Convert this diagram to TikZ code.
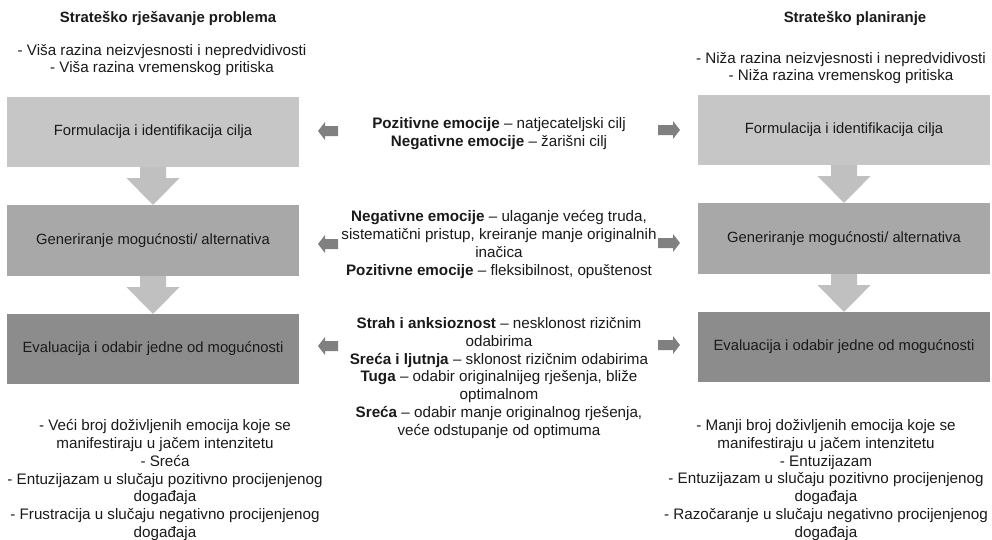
\documentclass[tikz,border=0pt]{standalone}
\usepackage{fontspec}
\setmainfont{Liberation Sans}
\usetikzlibrary{calc}
\definecolor{boxA}{HTML}{C6C6C6}
\definecolor{boxB}{HTML}{A8A8A8}
\definecolor{boxC}{HTML}{8C8C8C}
\definecolor{downC}{HTML}{C0C0C0}
\definecolor{sideC}{HTML}{808080}
\definecolor{txt}{HTML}{1A1A1A}
\tikzset{
  stagebox/.style={minimum width=292pt, minimum height=70pt, inner sep=0pt, text=txt, font=\fontsize{14.8}{17}\selectfont},
  txtblock/.style={align=center, text=txt, inner sep=0pt, font=\fontsize{15.2}{17.8}\selectfont},
  headtxt/.style={text=txt, inner sep=0pt, font=\fontsize{14.9}{17}\selectfont\bfseries},
  downarr/.style={fill=downC},
  sidearr/.style={fill=sideC}
}
\begin{document}
\begin{tikzpicture}[x=1pt,y=-1pt]
\useasboundingbox[fill=white] (0,0) rectangle (992,539);
% headers
\node[headtxt] (hl) at (168,18) {Strateško rješavanje problema};
\node[headtxt] (hr) at (855,18) {Strateško planiranje};
\node[txtblock] (tl) at (162,60) {- Viša razina neizvjesnosti i nepredvidivosti\\- Viša razina vremenskog pritiska};
\node[txtblock] (tr) at (841,68) {- Niža razina neizvjesnosti i nepredvidivosti\\- Niža razina vremenskog pritiska};
% boxes left
\node[stagebox, fill=boxA] (L1) at (153,132) {Formulacija i identifikacija cilja};
\node[stagebox, fill=boxB, minimum height=71pt] (L2) at (153,240.5) {Generiranje mogućnosti/ alternativa};
\node[stagebox, fill=boxC] (L3) at (153,349) {Evaluacija i odabir jedne od mogućnosti};
% boxes right
\node[stagebox, fill=boxA] (R1) at (844,130) {Formulacija i identifikacija cilja};
\node[stagebox, fill=boxB, minimum height=71pt] (R2) at (844,238.5) {Generiranje mogućnosti/ alternativa};
\node[stagebox, fill=boxC] (R3) at (844,347) {Evaluacija i odabir jedne od mogućnosti};
% down arrows
\foreach \a/\b in {L1/L2,L2/L3,R1/R2,R2/R3}{
  \fill[downarr] ($(\a.south)+(-13,0)$) -- ($(\a.south)+(13,0)$) -- ($(\a.south)+(13,11)$) -- ($(\a.south)+(26.5,11)$) -- (\b.north) -- ($(\a.south)+(-26.5,11)$) -- ($(\a.south)+(-13,11)$) -- cycle;
}
% middle texts
\node[txtblock] (m1) at (499,133.5) {\textbf{Pozitivne emocije} – natjecateljski cilj\\\textbf{Negativne emocije} – žarišni cilj};
\node[txtblock] (m2) at (499,244.5) {\textbf{Negativne emocije} – ulaganje većeg truda,\\sistematični pristup, kreiranje manje originalnih\\inačica\\\textbf{Pozitivne emocije} – fleksibilnost, opuštenost};
\node[txtblock] (m3) at (499,378) {\textbf{Strah i anksioznost} – nesklonost rizičnim\\odabirima\\\textbf{Sreća i ljutnja} – sklonost rizičnim odabirima\\\textbf{Tuga} – odabir originalnijeg rješenja, bliže\\optimalnom\\\textbf{Sreća} – odabir manje originalnog rješenja,\\veće odstupanje od optimuma};
% side arrows
\foreach \n/\y in {1/131,2/244,3/346}{
  \coordinate (la\n) at (318,\y);
  \coordinate (ra\n) at (680,\y-1);
  \fill[sidearr] (la\n) -- ++(7,-9) -- ++(0,4) -- ++(13,0) -- ++(0,10) -- ++(-13,0) -- ++(0,4) -- cycle;
  \fill[sidearr] (ra\n) -- ++(-7,-9) -- ++(0,4) -- ++(-15,0) -- ++(0,10) -- ++(15,0) -- ++(0,4) -- cycle;
}
% bottom texts
\node[txtblock] (bl) at (165,480) {- Veći broj doživljenih emocija koje se\\manifestiraju u jačem intenzitetu\\- Sreća\\- Entuzijazam u slučaju pozitivno procijenjenog\\događaja\\- Frustracija u slučaju negativno procijenjenog\\događaja};
\node[txtblock] (br) at (826,480) {- Manji broj doživljenih emocija koje se\\manifestiraju u jačem intenzitetu\\- Entuzijazam\\- Entuzijazam u slučaju pozitivno procijenjenog\\događaja\\- Razočaranje u slučaju negativno procijenjenog\\događaja};
\end{tikzpicture}
\end{document}
